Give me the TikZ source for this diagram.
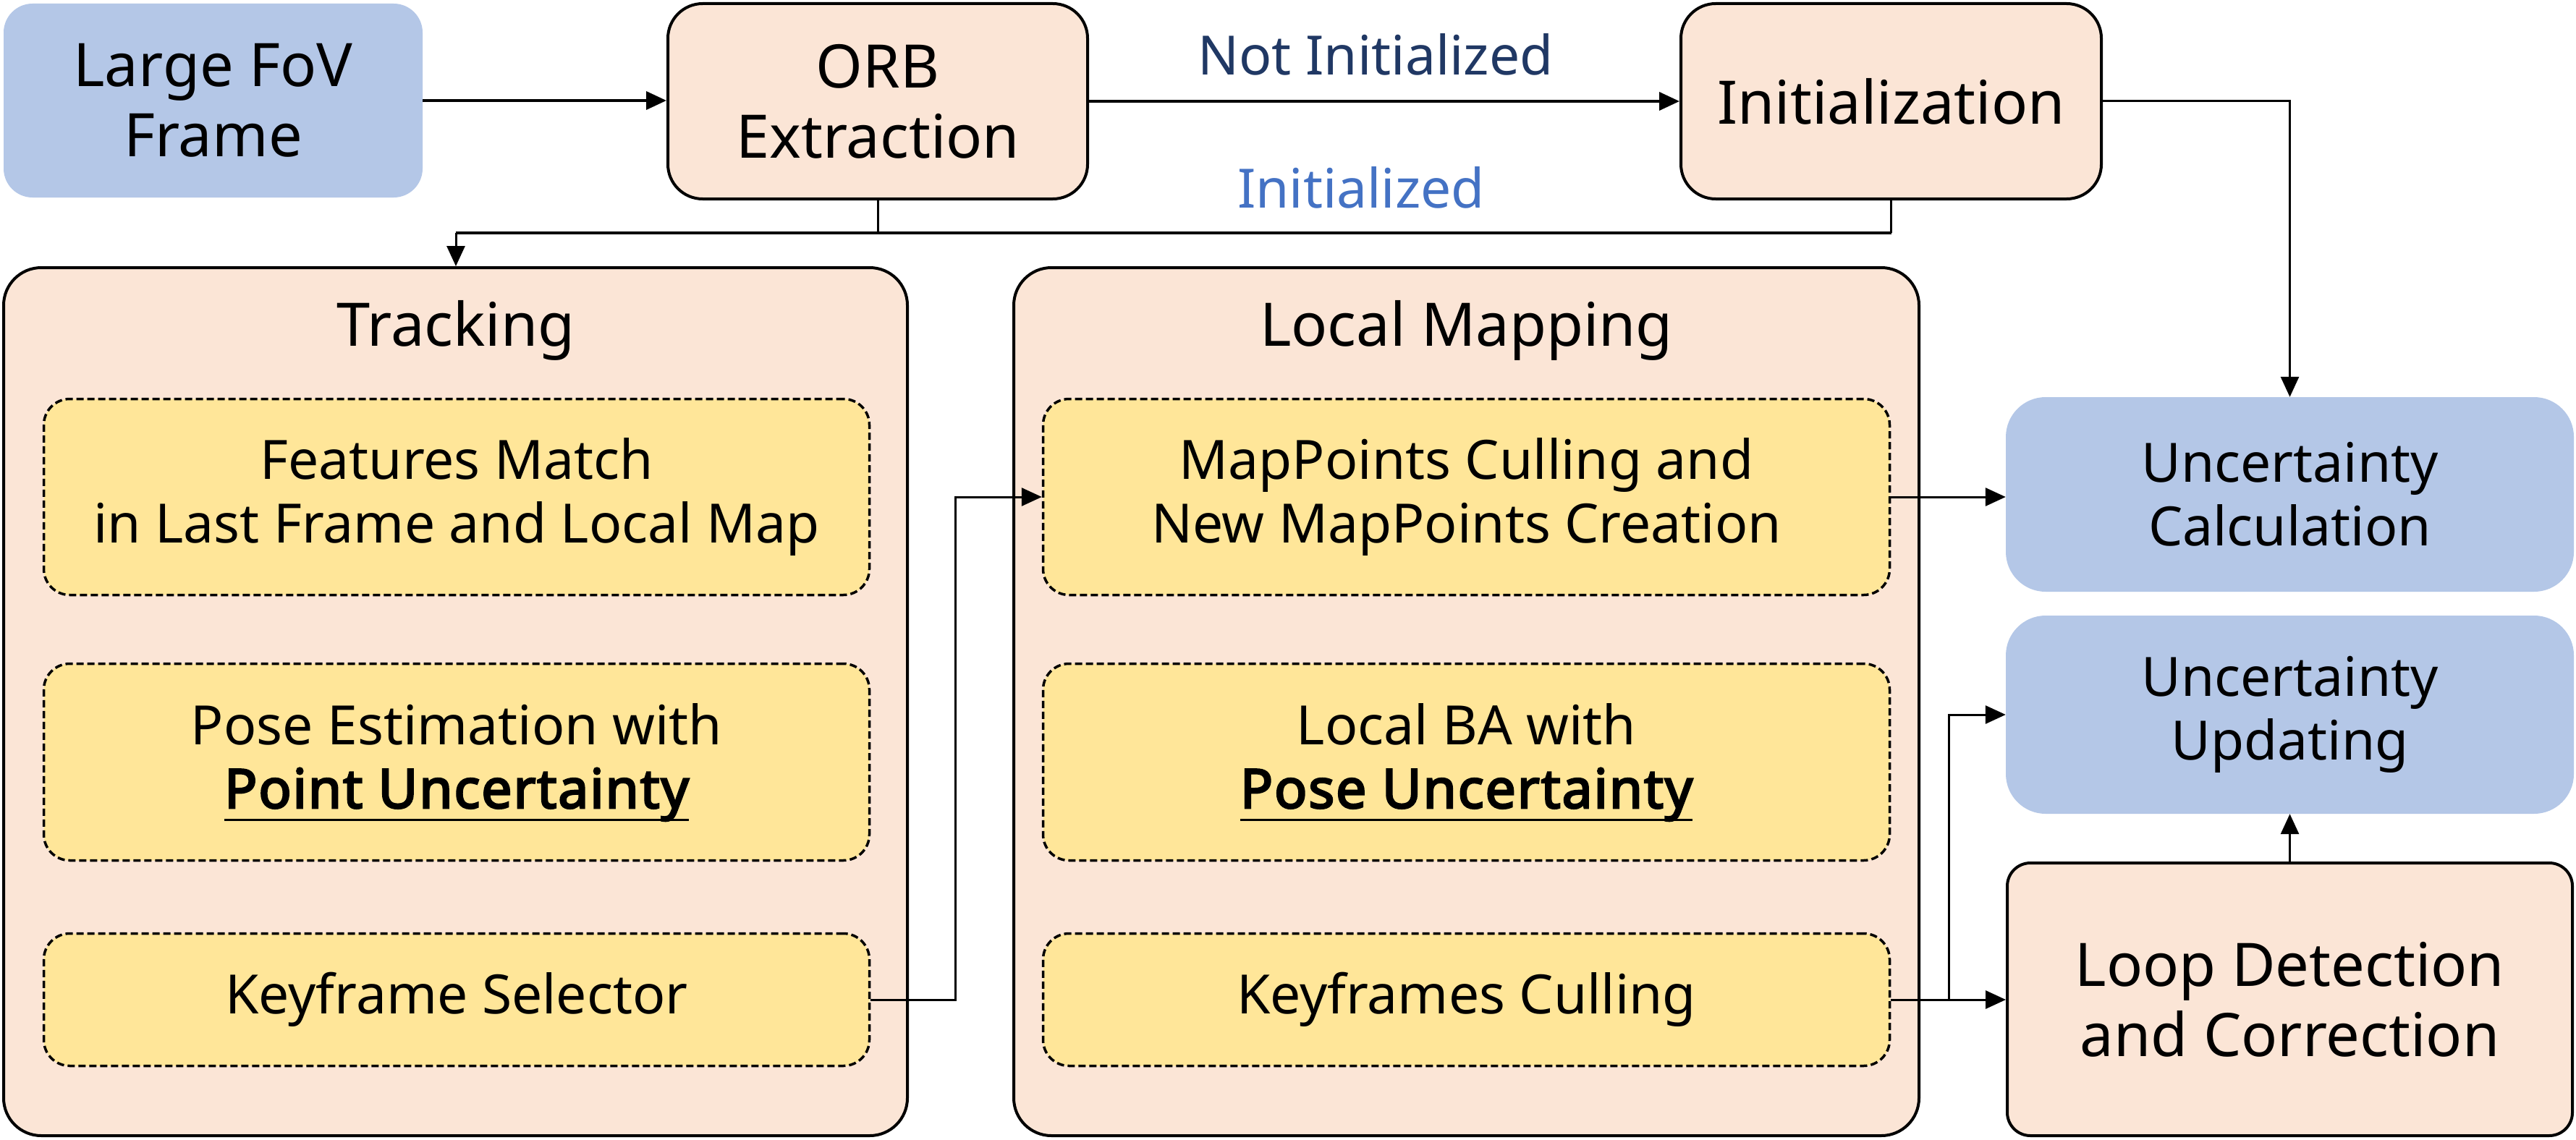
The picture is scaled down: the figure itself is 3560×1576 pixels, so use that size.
\documentclass[tikz,border=0pt]{standalone}
\usepackage{fontspec}
\setmainfont{Noto Sans}
\newfontfamily\boldnoto{Noto Sans}[FakeBold=3.5,LetterSpace=2.5]
\usetikzlibrary{arrows.meta}
\definecolor{cblue}{HTML}{B4C7E7}
\definecolor{cpeach}{HTML}{FBE5D6}
\definecolor{cyel}{HTML}{FFE699}
\definecolor{cnavy}{HTML}{203864}
\definecolor{clab}{HTML}{4472C4}
\newsavebox{\ulbox}
\newcommand\ulbold[1]{\sbox{\ulbox}{\boldnoto #1}\leavevmode\rlap{\rule[-0.24em]{\wd\ulbox}{3.5pt}}\usebox{\ulbox}}
\tikzset{
  titlef/.style={font=\fontsize{83}{97}\selectfont},
  bodyf/.style={font=\fontsize{75}{88}\selectfont},
  bluebox/.style={fill=cblue, rounded corners=55pt, inner sep=0pt, align=center, bodyf},
  peachbox/.style={fill=cpeach, draw=black, line width=4pt, rounded corners=48pt, inner sep=0pt, align=center, titlef},
  groupbox/.style={fill=cpeach, draw=black, line width=4pt, rounded corners=52pt, inner sep=0pt},
  inbox/.style={fill=cyel, draw=black, line width=3.5pt, dash pattern=on 10pt off 5pt, rounded corners=36pt, inner sep=0pt, align=center, bodyf},
  conn/.style={line width=4pt},
  thin/.style={line width=3pt},
  arr/.style={-{Triangle[length=28pt,width=25pt]}},
  lab/.style={bodyf, anchor=base, inner sep=0pt}
}
\begin{document}
\begin{tikzpicture}[x=1pt,y=-1pt]
\useasboundingbox (0,0) rectangle (3560,1576);
\fill[white] (0,0) rectangle (3560,1576);

% top row
\node[bluebox, rounded corners=40pt, titlef, minimum width=579pt, minimum height=268pt] (lff) at (294.5,139) {Large FoV\\Frame};
\node[peachbox, minimum width=580pt, minimum height=270pt] (orb) at (1213,140) {ORB\\Extraction};
\node[peachbox, minimum width=581pt, minimum height=270pt] (init) at (2613.5,140) {Initialization};

% groups
\node[groupbox, minimum width=1249pt, minimum height=1200pt] (track) at (629.5,970) {};
\node[groupbox, minimum width=1251pt, minimum height=1200pt] (lm) at (2026.5,970) {};
\node[titlef, anchor=base, inner sep=0pt] (tracktitle) at (630,478) {Tracking};
\node[titlef, anchor=base, inner sep=0pt] (lmtitle) at (2026.5,478) {Local Mapping};

% inner boxes
\node[inbox, minimum width=1141pt, minimum height=271pt] (feat) at (631,687) {Features Match\\in Last Frame and Local Map};
\node[inbox, minimum width=1141pt, minimum height=272pt] (pose) at (631,1053.5) {Pose Estimation with\\\ulbold{Point Uncertainty}};
\node[inbox, minimum width=1141pt, minimum height=183pt] (kfs) at (631,1382) {Keyframe Selector};
\node[inbox, minimum width=1170pt, minimum height=271pt] (mpc) at (2026.5,687) {MapPoints Culling and\\New MapPoints Creation};
\node[inbox, minimum width=1170pt, minimum height=272pt] (lba) at (2026.5,1053.5) {Local BA with\\\ulbold{Pose Uncertainty}};
\node[inbox, minimum width=1170pt, minimum height=183pt] (kfc) at (2026.5,1382) {Keyframes Culling};

% right column
\node[bluebox, minimum width=785pt, minimum height=269pt] (ucalc) at (3164.5,683.5) {Uncertainty\\Calculation};
\node[bluebox, minimum width=785pt, minimum height=274pt] (upd) at (3164.5,988) {Uncertainty\\Updating};
\node[peachbox, rounded corners=32pt, minimum width=781pt, minimum height=377pt] (loop) at (3164.5,1381.5) {Loop Detection\\and Correction};

% labels
\node[lab, text=cnavy] (lnot) at (1901,104) {Not Initialized};
\node[lab, text=clab] (linit) at (1881,287) {Initialized};

% junction coordinates
\coordinate (jl) at (630,322);
\coordinate (jr) at (2613.5,322);
\coordinate (k1) at (1320,0);
\coordinate (k2) at (2693,0);

% connectors
\draw[conn, arr] (lff.east) -- (lff.east -| orb.west);
\draw[conn, arr] (orb.east) -- (orb.east -| init.west);
\draw[thin] (orb.south) -- (orb.south |- jl);
\draw[thin] (init.south) -- (jr);
\draw[conn] (jr) -- (jl);
\draw[thin, arr] (jl) -- (jl |- track.north);
\draw[thin, arr] (init.east) -- (init.east -| ucalc.north) -- (ucalc.north);
\draw[thin, arr] (kfs.east) -- (kfs.east -| k1) -- (k1 |- mpc.west) -- (mpc.west);
\draw[thin, arr] (mpc.east) -- (mpc.east -| ucalc.west);
\draw[thin, arr] (kfc.east) -- (kfc.east -| loop.west);
\draw[thin, arr] (kfc.east -| k2) -- (k2 |- upd.west) -- (upd.west);
\draw[thin, arr] (loop.north) -- (upd.south);
\end{tikzpicture}
\end{document}
